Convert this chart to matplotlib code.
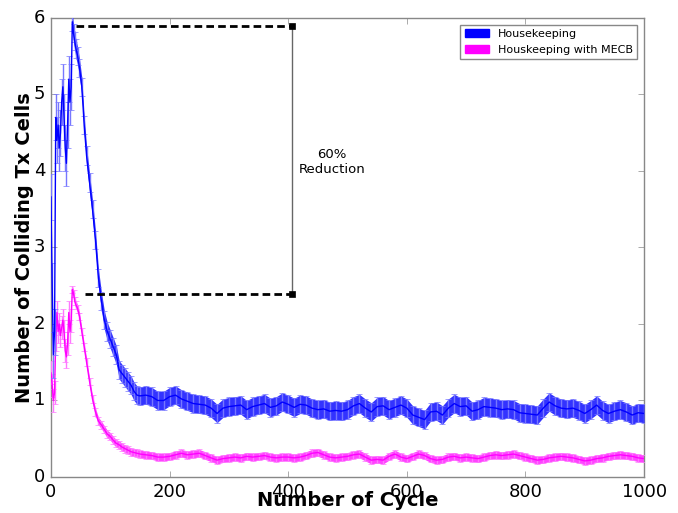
import numpy as np
import matplotlib
matplotlib.use('Agg')
import matplotlib.pyplot as plt
from matplotlib.patches import Patch

cycles = [0, 2, 4, 6, 8, 10, 12, 14, 16, 18, 20, 22, 24, 26, 28, 30, 32, 34, 36, 38,
          40, 42, 45, 48, 52, 56, 60, 65, 70, 75, 80, 85, 90, 95, 100, 105, 110, 115,
          120, 125, 130, 135, 140, 145, 150, 160, 170, 180, 190, 200, 210, 220, 230,
          240, 250, 260, 270, 280, 290, 300, 310, 320, 330, 340, 350, 360, 370, 380,
          390, 400, 410, 420, 430, 440, 450, 460, 470, 480, 490, 500, 510, 520, 530,
          540, 550, 560, 570, 580, 590, 600, 610, 620, 630, 640, 650, 660, 670, 680,
          690, 700, 710, 720, 730, 740, 750, 760, 770, 780, 790, 800, 810, 820, 830,
          840, 850, 860, 870, 880, 890, 900, 910, 920, 930, 940, 950, 960, 970, 980,
          990, 1000]

# Housekeeping
hk = [3.66, 2.5, 1.6, 1.9, 4.7, 4.4, 4.6, 4.3, 4.5, 4.9, 5.1, 4.7, 4.3, 4.1, 4.6, 5.2,
      4.9, 5.1, 5.95, 5.8, 5.7, 5.6, 5.5, 5.35, 5.1, 4.6, 4.2, 3.85, 3.5, 3.1, 2.6, 2.3,
      2.05, 1.9, 1.8, 1.7, 1.6, 1.4, 1.35, 1.3, 1.25, 1.2, 1.12, 1.07, 1.06, 1.07, 1.05,
      1.0, 1.0, 1.05, 1.07, 1.02, 0.99, 0.96, 0.95, 0.94, 0.9, 0.83, 0.9, 0.92, 0.93,
      0.94, 0.88, 0.92, 0.94, 0.96, 0.91, 0.93, 0.98, 0.95, 0.91, 0.95, 0.94, 0.9, 0.88,
      0.89, 0.86, 0.87, 0.86, 0.88, 0.93, 0.96, 0.9, 0.85, 0.92, 0.93, 0.88, 0.91, 0.94,
      0.9, 0.81, 0.78, 0.75, 0.85, 0.86, 0.81, 0.9, 0.96, 0.92, 0.93, 0.86, 0.88, 0.92,
      0.91, 0.9, 0.88, 0.89, 0.88, 0.84, 0.83, 0.82, 0.81, 0.9, 0.98, 0.93, 0.9, 0.89,
      0.9, 0.87, 0.83, 0.88, 0.94, 0.87, 0.83, 0.86, 0.88, 0.85, 0.81, 0.84, 0.83]

# Houskeeping with MECB
mecb = [1.36, 1.2, 1.0, 1.1, 1.8, 2.15, 1.9, 2.0, 1.85, 1.95, 2.05, 1.9, 1.65, 1.57,
        1.75, 2.15, 1.9, 2.05, 2.45, 2.4, 2.3, 2.25, 2.2, 2.1, 1.9, 1.7, 1.5, 1.25, 1.02,
        0.85, 0.73, 0.68, 0.62, 0.56, 0.53, 0.48, 0.44, 0.42, 0.39, 0.37, 0.35, 0.33,
        0.32, 0.31, 0.3, 0.29, 0.28, 0.26, 0.26, 0.27, 0.29, 0.31, 0.29, 0.3, 0.31, 0.28,
        0.25, 0.22, 0.24, 0.25, 0.26, 0.25, 0.27, 0.26, 0.27, 0.28, 0.26, 0.25, 0.26,
        0.26, 0.25, 0.26, 0.28, 0.31, 0.32, 0.29, 0.26, 0.25, 0.26, 0.27, 0.29, 0.3,
        0.26, 0.22, 0.23, 0.22, 0.27, 0.3, 0.26, 0.24, 0.27, 0.3, 0.28, 0.24, 0.22, 0.23,
        0.26, 0.27, 0.25, 0.26, 0.25, 0.24, 0.26, 0.28, 0.29, 0.28, 0.29, 0.3, 0.28,
        0.26, 0.24, 0.22, 0.23, 0.25, 0.26, 0.27, 0.26, 0.25, 0.23, 0.21, 0.22, 0.24,
        0.25, 0.27, 0.28, 0.29, 0.28, 0.27, 0.25, 0.24]

# error bar half-widths: larger in the first 36 cycles
hk_err = [0.3] * 18 + [0.12] * (len(cycles) - 18)
mecb_err = [0.15] * 18 + [0.05] * (len(cycles) - 18)

# reduction annotation
top_level = 5.9
bottom_level = 2.39
marker_x = 406

cycles = np.array(cycles)
hk = np.array(hk)
mecb = np.array(mecb)
hk_err = np.array(hk_err)
mecb_err = np.array(mecb_err)

plt.style.use('classic')
fig = plt.figure(figsize=(6.78, 5.13), dpi=100, facecolor='white')
ax = fig.add_axes([0.0752, 0.0702, 0.8748, 0.8948])

ax.fill_between(cycles, mecb - mecb_err, mecb + mecb_err, where=cycles >= 36,
                color='#ff44ff', lw=0, zorder=2)
ax.errorbar(cycles, mecb, yerr=mecb_err, color='#ff00ff', ecolor='#ff77ff',
            elinewidth=1, capsize=2, lw=1, zorder=3)
ax.fill_between(cycles, hk - hk_err, hk + hk_err, where=cycles >= 36,
                color='#3333ff', lw=0, zorder=4)
ax.errorbar(cycles, hk, yerr=hk_err, color='#0000ff', ecolor='#7777ff',
            elinewidth=1, capsize=2, lw=1, zorder=5)

ax.plot([42, marker_x], [top_level, top_level], 'k--', lw=2, dashes=(5.5, 3), zorder=6)
ax.plot([57, marker_x], [bottom_level, bottom_level], 'k--', lw=2, dashes=(5.5, 3), zorder=6)
ax.plot([marker_x, marker_x], [bottom_level, top_level], color='#666666', lw=1, zorder=6)
ax.plot([marker_x, marker_x], [bottom_level, top_level], 's', color='k', ms=4, zorder=7)
ax.text(474, 4.12, '60%\nReduction', ha='center', va='center', fontsize=9.5)

ax.set_xlim(0, 1000)
ax.set_ylim(0, 6)
ax.set_xticks([0, 200, 400, 600, 800, 1000])
ax.set_yticks([0, 1, 2, 3, 4, 5, 6])
ax.tick_params(labelsize=13, direction='in', length=4, color='#888888')
for s in ax.spines.values():
    s.set_color('#888888')

ax.set_xlabel('Number of Cycle', fontsize=14, fontweight='bold', labelpad=-7)
ax.set_ylabel('Number of Colliding Tx Cells', fontsize=14, fontweight='bold', labelpad=0)

handles = [Patch(color='#0000ff'), Patch(color='#ff00ff')]
leg = ax.legend(handles, ['Housekeeping', 'Houskeeping with MECB'], loc='upper right',
                fontsize=8, handlelength=2.2, handleheight=0.7, borderaxespad=0.6)
leg.get_frame().set_edgecolor('#888888')

fig.savefig('out.png', dpi=100, facecolor='white')
